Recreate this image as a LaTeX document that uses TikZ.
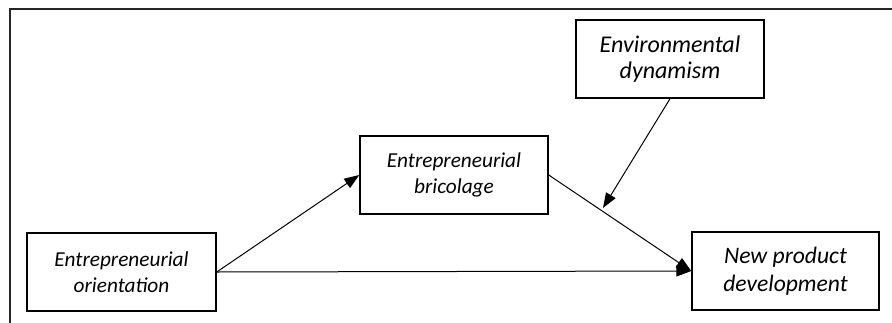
\documentclass[tikz,border=0pt]{standalone}
\usepackage{fontspec}
\setmainfont{Carlito}
\usetikzlibrary{arrows.meta}
\begin{document}
\begin{tikzpicture}[x=1pt,y=-1pt,
  box/.style={draw, line width=1.5pt, rectangle, inner sep=0pt, minimum width=188pt, minimum height=78pt, align=center, font=\fontsize{21.3}{26}\selectfont\itshape},
  bigbox/.style={box, font=\fontsize{23.6}{28}\selectfont\itshape},
  conn/.style={line width=1pt, -{Triangle[length=15pt,width=11pt]}}]
\useasboundingbox (0,0) rectangle (892,322);
\draw[line width=2pt, black!85] (893,9) -- (10,9) -- (10,323);
\node[box, minimum width=189pt] (eo) at (121.5,272) {Entrepreneurial\\orientation};
\node[box] (eb) at (454,175) {Entrepreneurial\\bricolage};
\node[box, font=\fontsize{24}{26}\selectfont\itshape] (ed) at (670,59) {Environmental\\dynamism};
\node[bigbox, minimum width=187pt] (npd) at (785.5,271) {New product\\development};
\coordinate (mod) at (603,208);
\draw[conn] (eo.east) -- (eb.west);
\draw[conn] (eo.east) -- (npd.west);
\draw[conn] (eb.east) -- (npd.west);
\draw[conn] (ed.south) -- (mod);
\end{tikzpicture}
\end{document}
